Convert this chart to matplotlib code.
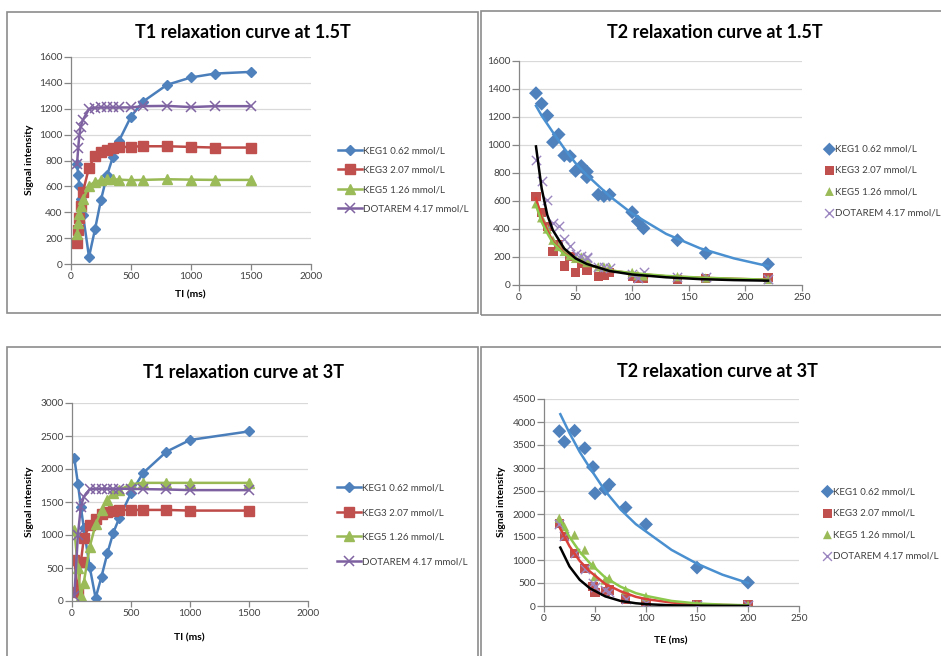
import numpy as np
import matplotlib
matplotlib.use("Agg")
import matplotlib.pyplot as plt
from matplotlib.patches import Rectangle

plt.rcParams["font.family"] = ["Lato", "DejaVu Sans"]

# DATA ############################################################

labels = ["KEG1 0.62 mmol/L", "KEG3 2.07 mmol/L", "KEG5 1.26 mmol/L", "DOTAREM 4.17 mmol/L"]

# T1 at 1.5T
ti_15 = [50, 60, 70, 80, 100, 150, 200, 250, 300, 350, 400, 500, 600, 800, 1000, 1200, 1500]
t1_15_keg1 = [775, 690, 600, 500, 380, 55, 268, 497, 685, 830, 952, 1140, 1255, 1385, 1442, 1472, 1485]
t1_15_keg3 = [160, 265, 355, 450, 560, 745, 838, 868, 882, 895, 902, 907, 910, 910, 905, 900, 900]
t1_15_keg5 = [230, 315, 390, 450, 500, 605, 635, 648, 655, 655, 652, 648, 650, 655, 652, 650, 650]
t1_15_dota = [770, 895, 1000, 1060, 1115, 1198, 1208, 1210, 1210, 1210, 1210, 1210, 1220, 1222, 1213, 1220, 1220]

# T1 at 3T
ti_3 = [20, 50, 75, 100, 150, 200, 250, 300, 350, 400, 500, 600, 800, 1000, 1500]
t1_3_keg1 = [2160, 1780, 1430, 1100, 515, 45, 370, 725, 1035, 1255, 1635, 1935, 2262, 2440, 2570]
t1_3_keg3 = [620, 130, 590, 950, 1150, 1250, 1320, 1350, 1365, 1380, 1380, 1380, 1380, 1370, 1370]
t1_3_keg5 = [1080, 500, 70, 280, 820, 1160, 1380, 1530, 1630, 1680, 1770, 1790, 1790, 1790, 1790]
t1_3_dota = [80, 1000, 1430, 1580, 1693, 1700, 1700, 1700, 1700, 1700, 1700, 1695, 1690, 1680, 1680]

# T2 at 1.5T
te_15 = [15, 20, 25, 30, 35, 40, 45, 50, 55, 60, 60, 70, 75, 80, 100, 105, 110, 140, 165, 220]
t2_15_keg1 = [1370, 1295, 1210, 1020, 1075, 925, 920, 815, 850, 810, 770, 645, 635, 645, 520, 455, 405, 320, 228, 148]
t2_15_keg3 = [631, 517, 417, 238, 286, 136, 202, 88, 155, 102, 102, 60, 71, 88, 60, 48, 48, 40, 48, 52]
t2_15_keg5 = [580, 480, 400, 320, 275, 240, 210, 190, 200, 180, 160, 130, 130, 125, 90, 70, 65, 60, 50, 40]
t2_15_dota = [895, 740, 610, 440, 420, 330, 280, 220, 210, 200, 190, 130, 130, 120, 80, 50, 95, 60, 55, 45]

# trend lines
fit_15_x = [15, 20, 25, 30, 40, 50, 60, 80, 100, 130, 160, 190, 220]
fit_15_keg1 = [1280, 1210, 1150, 1090, 975, 870, 785, 635, 510, 365, 262, 190, 135]
fit_15_keg3 = [620, 480, 390, 310, 225, 175, 145, 105, 82, 62, 52, 44, 38]
fit_15_keg5 = [570, 450, 370, 300, 220, 175, 145, 105, 85, 65, 53, 45, 38]
fit_15_dota = [990, 690, 500, 390, 260, 190, 150, 100, 75, 55, 42, 35, 31]

# T2 at 3T
te_3 = [15, 20, 30, 40, 48, 50, 60, 64, 80, 100, 150, 200]
t2_3_keg1 = [3800, 3570, 3810, 3430, 3020, 2450, 2540, 2640, 2140, 1775, 835, 510]
t2_3_keg3 = [1797, 1507, 1145, 819, 420, 290, 312, 348, 152, 58, 22, 22]
t2_3_keg5 = [1906, 1725, 1543, 1217, 891, 638, 565, 600, 348, 203, 22, 22]
t2_3_dota = [1780, 1530, 1150, 800, 500, 420, 350, 300, 150, 60, 20, 20]

# trend lines
fit_3_x = [16, 25, 35, 45, 60, 75, 90, 100, 125, 150, 175, 200]
fit_3_keg1 = [4170, 3760, 3350, 3000, 2500, 2100, 1780, 1620, 1220, 920, 680, 500]
fit_3_keg3 = [1680, 1300, 980, 750, 480, 320, 200, 150, 75, 40, 22, 12]
fit_3_keg5 = [1870, 1500, 1180, 930, 620, 420, 280, 220, 110, 55, 30, 15]
fit_3_dota = [1270, 860, 570, 385, 210, 110, 60, 40, 15, 8, 4, 2]

# STYLE ###########################################################

W, H = 941, 656
line_colors = ["#4A7EBB", "#BE4B48", "#98B954", "#7D60A0"]
marker_colors = ["#4F81BD", "#C0504D", "#9BBB59", "#8064A2"]
fit_colors = ["#4A90D0", "#D9403A", "#8CC84B", "#000000"]
markers = ["D", "s", "^", "x"]
GRID = "#D9D9D9"
AXIS = "#868686"
TEXT = "#404040"
LEG_SIZE = 7

fig = plt.figure(figsize=(W / 100, H / 100), dpi=100)


def px_axes(x0, y0, x1, y1):
    # pixel box (top-left origin) -> figure axes
    return fig.add_axes([x0 / W, 1 - y1 / H, (x1 - x0) / W, (y1 - y0) / H])


def style(ax, xmax, xstep, ymax, ystep):
    ax.set_xlim(0, xmax)
    ax.set_ylim(0, ymax)
    ax.set_xticks(np.arange(0, xmax + 1, xstep))
    ax.set_yticks(np.arange(0, ymax + 1, ystep))
    ax.yaxis.grid(True, color=GRID, linewidth=0.9)
    ax.set_axisbelow(True)
    for s in ["top", "right"]:
        ax.spines[s].set_visible(False)
    for s in ["left", "bottom"]:
        ax.spines[s].set_color(AXIS)
        ax.spines[s].set_linewidth(0.9)
    ax.tick_params(axis="both", colors=AXIS, labelcolor=TEXT, labelsize=7.3,
                   length=4, width=0.9, pad=2)
    ax.tick_params(axis="y", length=5, pad=1)


def put_text(xy, s, **kw):
    fig.text(xy[0] / W, 1 - xy[1] / H, s, ha="center", va="center", color="#000000", **kw)


# panel frames
for (x0, y0, x1, y1) in [(7, 12, 478, 313), (481, 11, 945, 315),
                         (7, 347, 478, 662), (481, 347, 945, 662)]:
    fig.patches.append(Rectangle((x0 / W, 1 - y1 / H), (x1 - x0) / W, (y1 - y0) / H,
                                 transform=fig.transFigure, fill=False,
                                 edgecolor="#8C8C8C", linewidth=1.2))

# T1 PANELS #######################################################


def t1_panel(box, x, series, ymax, ystep, title, title_xy, legend_xy, spacing,
             ylab_xy, xlab_xy):
    ax = px_axes(*box)
    for i, y in enumerate(series):
        kw = dict(color=line_colors[i], linewidth=1.8, marker=markers[i],
                  markerfacecolor=marker_colors[i], markeredgecolor=marker_colors[i],
                  label=labels[i])
        if markers[i] == "x":
            kw.update(markersize=7, markeredgewidth=1.1)
        elif markers[i] == "D":
            kw.update(markersize=5.5)
        else:
            kw.update(markersize=6.5)
        ax.plot(x, y, **kw)
    style(ax, 2000, 500, ymax, ystep)
    put_text(title_xy, title, fontsize=13, fontweight="bold")
    put_text(ylab_xy, "Signal intensity", rotation=90, fontsize=7.5, fontweight="bold")
    put_text(xlab_xy, "TI (ms)", fontsize=7.5, fontweight="bold")
    ax.legend(loc="center left", bbox_to_anchor=(legend_xy[0] / W, 1 - legend_xy[1] / H),
              bbox_transform=fig.transFigure, frameon=False, fontsize=LEG_SIZE,
              handlelength=2.5, handletextpad=0.1, labelspacing=spacing, borderpad=0,
              borderaxespad=0, labelcolor=TEXT)
    return ax


t1_panel((71, 57, 311, 264), ti_15, [t1_15_keg1, t1_15_keg3, t1_15_keg5, t1_15_dota],
         1600, 200, "T1 relaxation curve at 1.5T", (243, 32), (338, 180), 1.05,
         (29, 160), (190, 295))

t1_panel((72, 403, 308, 601), ti_3, [t1_3_keg1, t1_3_keg3, t1_3_keg5, t1_3_dota],
         3000, 500, "T1 relaxation curve at 3T", (243, 373), (337, 525), 1.62,
         (29, 502), (189, 638))

# T2 PANELS #######################################################


def t2_panel(box, x, series, fx, fits, ymax, ystep, title, title_xy, legend_xy, spacing,
             ylab_xy=None, xlab_xy=None):
    ax = px_axes(*box)
    for i, y in enumerate(series):
        if markers[i] == "x":
            ax.scatter(x, y, marker="x", s=45, color="#9B86C0", linewidths=1.0,
                       label=labels[i], zorder=3)
        else:
            ax.scatter(x, y, marker=markers[i], s=45 if markers[i] != "D" else 50,
                       color=marker_colors[i], label=labels[i], zorder=3,
                       edgecolors="none")
    for i, f in enumerate(fits):
        ax.plot(fx, f, color=fit_colors[i], linewidth=1.8, zorder=4)
    style(ax, 250, 50, ymax, ystep)
    put_text(title_xy, title, fontsize=13, fontweight="bold")
    if ylab_xy:
        put_text(ylab_xy, "Signal intensity", rotation=90, fontsize=7.5, fontweight="bold")
    if xlab_xy:
        put_text(xlab_xy, "TE (ms)", fontsize=7.5, fontweight="bold")
    ax.legend(loc="center left", bbox_to_anchor=(legend_xy[0] / W, 1 - legend_xy[1] / H),
              bbox_transform=fig.transFigure, frameon=False, fontsize=LEG_SIZE,
              handlelength=0.7, handletextpad=0.25, labelspacing=spacing, borderpad=0,
              borderaxespad=0, labelcolor=TEXT, scatterpoints=1, markerscale=0.95)
    return ax


t2_panel((519, 61, 802, 285), te_15, [t2_15_keg1, t2_15_keg3, t2_15_keg5, t2_15_dota],
         fit_15_x, [fit_15_keg1, fit_15_keg3, fit_15_keg5, fit_15_dota],
         1600, 200, "T2 relaxation curve at 1.5T", (715, 33), (826, 181), 1.25)

t2_panel((544, 399, 799, 606), te_3, [t2_3_keg1, t2_3_keg3, t2_3_keg5, t2_3_dota],
         fit_3_x, [fit_3_keg1, fit_3_keg3, fit_3_keg5, fit_3_dota],
         4500, 500, "T2 relaxation curve at 3T", (717, 372), (824, 524), 1.3,
         ylab_xy=(502, 502), xlab_xy=(671, 641))

fig.savefig("out.png", dpi=100)
